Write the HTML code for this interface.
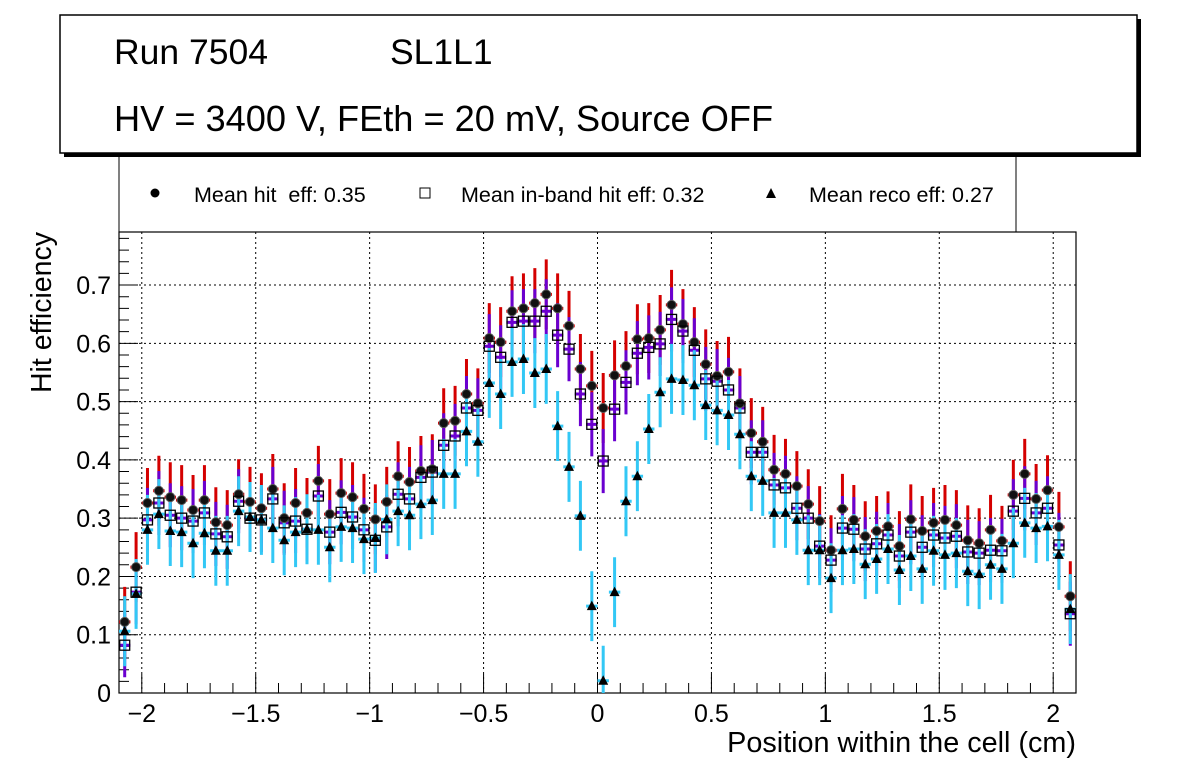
<!DOCTYPE html>
<html><head><meta charset="utf-8"><style>
body{margin:0;background:#fff;}
svg{display:block;font-family:"Liberation Sans",sans-serif;}
</style></head><body>
<svg id="chart" width="1196" height="772">
<rect x="64" y="19" width="1077" height="138" fill="#000"/>
<rect x="60" y="15" width="1077" height="138" fill="#fff" stroke="#000" stroke-width="1.5"/>
<text x="114" y="64" font-size="35.5">Run 7504</text>
<text x="390" y="64" font-size="35.5">SL1L1</text>
<text x="114" y="131" font-size="36.2">HV = 3400 V, FEth = 20 mV, Source OFF</text>
<g>
<path d="M119,157 V232 M1016,157 V232" stroke="#000" stroke-width="1"/>
<circle cx="155" cy="193" r="4.5" fill="#000"/>
<text x="194" y="202" font-size="21.5">Mean hit&#160; eff: 0.35</text>
<rect x="420" y="188" width="10" height="10" fill="#fff" stroke="#000"/>
<text x="461" y="202" font-size="21.5">Mean in-band hit eff: 0.32</text>
<path d="M771,188 L776,198 L766,198 Z" fill="#000"/>
<text x="809" y="202" font-size="21.5">Mean reco eff: 0.27</text>
</g>
<g id="grid"></g><g id="axes"></g><g id="marks"></g>
<text x="1076" y="752" font-size="28.8" text-anchor="end">Position within the cell (cm)</text>
<text transform="translate(51,232) rotate(-90)" font-size="28.5" text-anchor="end">Hit efficiency</text>
</svg>
<script>
const hitEff=[0.122,0.216,0.326,0.347,0.336,0.331,0.314,0.331,0.293,0.288,0.341,0.328,0.317,0.35,0.30,0.326,0.309,0.364,0.307,0.343,0.336,0.316,0.298,0.328,0.372,0.362,0.381,0.384,0.463,0.467,0.513,0.497,0.609,0.602,0.655,0.66,0.669,0.684,0.66,0.63,0.556,0.527,0.489,0.545,0.561,0.607,0.609,0.623,0.666,0.633,0.602,0.564,0.544,0.551,0.497,0.446,0.431,0.383,0.376,0.355,0.324,0.295,0.245,0.316,0.297,0.269,0.278,0.286,0.252,0.298,0.278,0.292,0.297,0.288,0.262,0.257,0.28,0.261,0.34,0.376,0.333,0.348,0.285,0.166];
const inbandEff=[0.082,0.173,0.297,0.326,0.305,0.30,0.295,0.309,0.273,0.268,0.329,0.30,0.297,0.333,0.292,0.295,0.281,0.338,0.276,0.31,0.302,0.28,0.262,0.285,0.341,0.333,0.37,0.379,0.425,0.441,0.489,0.485,0.595,0.576,0.636,0.638,0.638,0.655,0.614,0.59,0.513,0.461,0.398,0.487,0.533,0.583,0.593,0.599,0.641,0.621,0.588,0.539,0.535,0.52,0.489,0.413,0.413,0.357,0.352,0.317,0.30,0.252,0.228,0.283,0.281,0.247,0.256,0.271,0.235,0.276,0.25,0.271,0.266,0.269,0.242,0.24,0.245,0.244,0.312,0.334,0.309,0.317,0.254,0.136];
const recoEff=[0.106,0.17,0.28,0.307,0.278,0.276,0.257,0.274,0.244,0.244,0.312,0.302,0.297,0.283,0.262,0.276,0.281,0.28,0.25,0.285,0.283,0.264,0.266,0.298,0.312,0.305,0.324,0.331,0.376,0.376,0.449,0.431,0.532,0.513,0.568,0.573,0.549,0.556,0.458,0.388,0.304,0.149,0.021,0.173,0.329,0.372,0.453,0.516,0.539,0.537,0.528,0.494,0.485,0.477,0.444,0.372,0.364,0.309,0.309,0.297,0.245,0.245,0.197,0.245,0.247,0.221,0.23,0.247,0.211,0.235,0.213,0.244,0.237,0.24,0.209,0.204,0.22,0.213,0.257,0.292,0.283,0.286,0.237,0.144];
const hitErr=0.06, inbandErr=0.055, recoErr=0.06;
const xTicks=[-2,-1.5,-1,-0.5,0,0.5,1,1.5,2];
const xTickLabels=["\u22122","\u22121.5","\u22121","\u22120.5","0","0.5","1","1.5","2"];
const yTicks=[0,0.1,0.2,0.3,0.4,0.5,0.6,0.7];
const yTickLabels=["0","0.1","0.2","0.3","0.4","0.5","0.6","0.7"];
const X0=-2.1,X1=2.1,Y0=0,Y1=0.791,binW=0.05;
const L=119,R=1076,T=232,B=693;
const sx=v=>L+(v-X0)/(X1-X0)*(R-L);
const sy=v=>B-(v-Y0)/(Y1-Y0)*(B-T);
const NS="http://www.w3.org/2000/svg";
function mk(tag,attrs,parent){const e=document.createElementNS(NS,tag);for(const k in attrs)e.setAttribute(k,attrs[k]);parent.appendChild(e);return e;}
const grid=document.getElementById('grid'),axes=document.getElementById('axes'),marks=document.getElementById('marks');
xTicks.forEach((t,i)=>{
 const g=mk('line',{x1:sx(t),x2:sx(t),y1:T,y2:B,stroke:'#000','stroke-dasharray':'2,3','stroke-width':1},grid);
 
 
 const lb=mk('text',{x:sx(t),y:B+29,'font-size':25,'text-anchor':'middle'},axes);
 lb.textContent=xTickLabels[i];
 
 
});
yTicks.forEach((t,i)=>{
 if(t>0){const g=mk('line',{x1:L,x2:R,y1:sy(t),y2:sy(t),stroke:'#000','stroke-dasharray':'2,3','stroke-width':1},grid);
 
 }
 const lb=mk('text',{x:L-8,y:sy(t)+9,'font-size':25,'text-anchor':'end'},axes);
 lb.textContent=yTickLabels[i];
 
 
});
let d='';
for(let k=-21;k<=21;k++){const v=k/10;const len=(k%5===0)?19:10;d+=`M${sx(v)},${B}V${B-len}`;}
for(let k=0;k<=39;k++){const v=k/50;const len=(k%5===0)?19:10;d+=`M${L},${sy(v)}H${L+len}`;}
const tk=mk('path',{d:d,stroke:'#000','stroke-width':1,fill:'none'},axes);


const frame=mk('rect',{x:L,y:T,width:R-L,height:B-T,fill:'none',stroke:'#000','stroke-width':1.2},axes);


const cx=i=>sx(X0+binW*(i+0.5));
function bars(arr,err,color,name){
 arr.forEach((v,i)=>{
  const x=cx(i),hw=(sx(binW)-sx(0))/2;
  const p=mk('path',{d:`M${x},${sy(Math.max(0,v-err))}V${sy(v+err)}M${x-hw},${sy(v)}H${x+hw}`,stroke:color,'stroke-width':3,fill:'none'},marks);
  
  
 });
}
bars(hitEff,hitErr,'#d40000','hit-error-bar');
bars(inbandEff,inbandErr,'#6a00d0','inband-error-bar');
bars(recoEff,recoErr,'#33c8f5','reco-error-bar');
hitEff.forEach((v,i)=>{
 const c=mk('circle',{cx:cx(i),cy:sy(v),r:4.5,fill:'#111',stroke:'#555','stroke-width':1},marks);
 
 
});
inbandEff.forEach((v,i)=>{
 const r=mk('rect',{x:cx(i)-5,y:sy(v)-5,width:10,height:10,fill:'none',stroke:'#000','stroke-width':1.3},marks);
 
 
});
recoEff.forEach((v,i)=>{
 const x=cx(i),y=sy(v);
 const t=mk('path',{d:`M${x},${y-5.5}L${x+5},${y+4}L${x-5},${y+4}Z`,fill:'#000'},marks);
 
 
});
</script>
</body></html>
